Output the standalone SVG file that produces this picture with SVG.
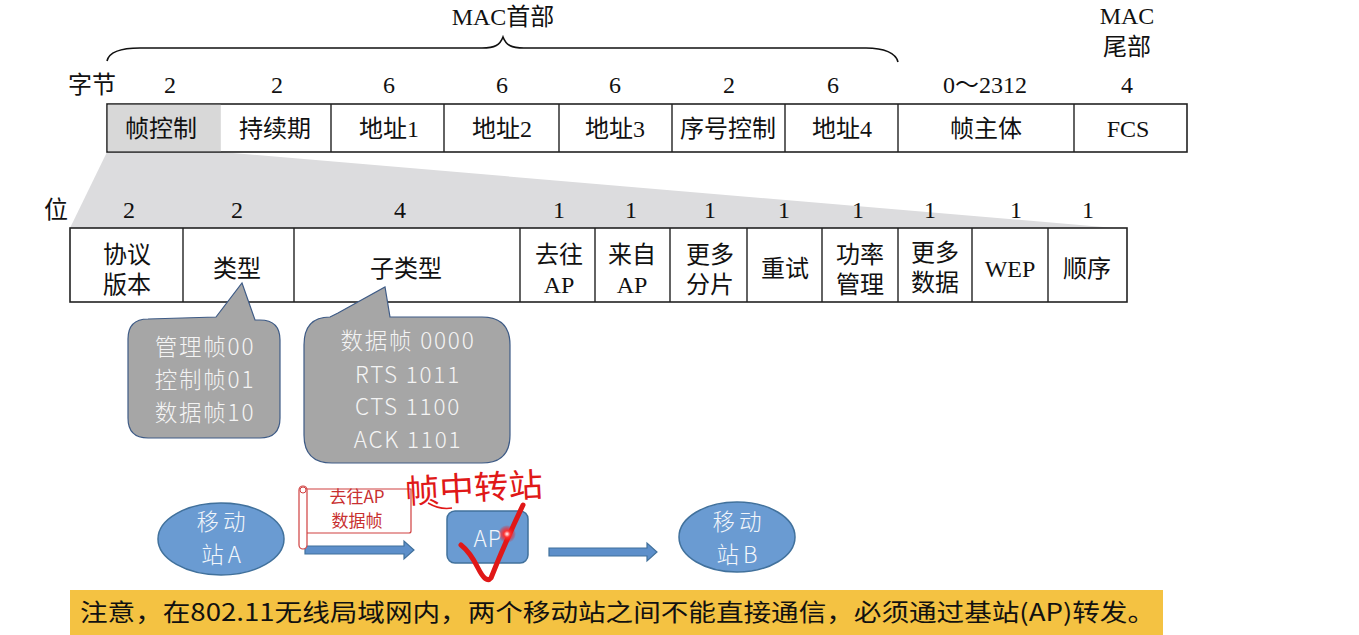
<svg xmlns="http://www.w3.org/2000/svg" width="1359" height="635" viewBox="0 0 1359 635">
  <defs>
    <style>
      .serif { font-family: "Liberation Serif", "Noto Sans CJK SC", serif; font-size: 24px; fill: #111; }
      .cell { fill: #fff; stroke: #222; stroke-width: 1.6; }
      .div { stroke: #222; stroke-width: 1.4; }
      .bubble { fill: #a6a6a6; stroke: #3e5b86; stroke-width: 1.2; }
      .btxt { font-family: "Noto Sans CJK SC", "Noto Sans", sans-serif; font-size: 22.5px; letter-spacing: 1.8px; font-weight: 300; fill: #f4f4f4; text-anchor: middle; }
      .node { fill: #6a9bd2; stroke: #41719c; stroke-width: 1.5; }
      .ntxt { font-family: "Noto Sans CJK SC", "Noto Sans", sans-serif; font-size: 22.5px; letter-spacing: 4px; font-weight: 300; fill: #f2f6fb; text-anchor: middle; }
      .arrow { fill: #5d8fca; stroke: #41719c; stroke-width: 1.2; }
      .mid { text-anchor: middle; }
    </style>
    <radialGradient id="laser">
      <stop offset="0" stop-color="#fff"/>
      <stop offset="0.35" stop-color="#ff3030"/>
      <stop offset="1" stop-color="#ff0000" stop-opacity="0"/>
    </radialGradient>
  </defs>

  <rect width="1359" height="635" fill="#fff"/>

  <!-- frame header / trailer labels -->
  <g id="header-labels" class="serif">
    <text x="503" y="25" class="mid">MAC首部</text>
    <text x="1127" y="24" class="mid">MAC</text>
    <text x="1127" y="55" class="mid">尾部</text>
    <path d="M107,61 C109,52 122,48 140,48 L482,48 C495,48 500,45 503,37 C506,45 511,48 524,48 L866,48 C884,48 896,53 898,62" fill="none" stroke="#111" stroke-width="1.6"/>
  </g>

  <!-- expansion wedge from the frame-control field -->
  <polygon id="wedge" points="107,152 221,152 1115,228 70,228" fill="#dcdcde"/>

  <!-- MAC frame fields (bytes) -->
  <g id="frame">
    <rect x="107" y="104" width="1080" height="48" class="cell"/>
    <rect x="107.8" y="104.8" width="113" height="46.4" fill="#d8d8d8"/>
    <line x1="331" y1="104" x2="331" y2="152" class="div"/>
    <line x1="444" y1="104" x2="444" y2="152" class="div"/>
    <line x1="559" y1="104" x2="559" y2="152" class="div"/>
    <line x1="672" y1="104" x2="672" y2="152" class="div"/>
    <line x1="785" y1="104" x2="785" y2="152" class="div"/>
    <line x1="898" y1="104" x2="898" y2="152" class="div"/>
    <line x1="1074" y1="104" x2="1074" y2="152" class="div"/>
    <g class="serif mid">
      <text x="92" y="93">字节</text>
      <text x="170" y="93">2</text>
      <text x="277" y="93">2</text>
      <text x="389" y="93">6</text>
      <text x="502" y="93">6</text>
      <text x="615" y="93">6</text>
      <text x="729" y="93">2</text>
      <text x="833" y="93">6</text>
      <text x="985" y="93">0～2312</text>
      <text x="1127" y="93">4</text>
      <text x="161" y="137">帧控制</text>
      <text x="275" y="137">持续期</text>
      <text x="389" y="137">地址1</text>
      <text x="502" y="137">地址2</text>
      <text x="615" y="137">地址3</text>
      <text x="728" y="137">序号控制</text>
      <text x="842" y="137">地址4</text>
      <text x="986" y="137">帧主体</text>
      <text x="1128" y="137">FCS</text>
    </g>
  </g>

  <!-- frame-control subfields (bits) -->
  <g id="frame-control">
    <rect x="70" y="228" width="1057" height="74" class="cell"/>
    <line x1="183" y1="228" x2="183" y2="302" class="div"/>
    <line x1="294" y1="228" x2="294" y2="302" class="div"/>
    <line x1="520" y1="228" x2="520" y2="302" class="div"/>
    <line x1="595" y1="228" x2="595" y2="302" class="div"/>
    <line x1="670" y1="228" x2="670" y2="302" class="div"/>
    <line x1="747" y1="228" x2="747" y2="302" class="div"/>
    <line x1="822" y1="228" x2="822" y2="302" class="div"/>
    <line x1="898" y1="228" x2="898" y2="302" class="div"/>
    <line x1="972" y1="228" x2="972" y2="302" class="div"/>
    <line x1="1048" y1="228" x2="1048" y2="302" class="div"/>
    <g class="serif mid">
      <text x="56" y="218">位</text>
      <text x="129" y="218">2</text>
      <text x="237" y="218">2</text>
      <text x="400" y="218">4</text>
      <text x="559" y="218">1</text>
      <text x="631" y="218">1</text>
      <text x="710" y="218">1</text>
      <text x="784" y="218">1</text>
      <text x="858" y="218">1</text>
      <text x="930" y="218">1</text>
      <text x="1016" y="218">1</text>
      <text x="1088" y="218">1</text>
      <text x="127" y="263">协议</text>
      <text x="127" y="293">版本</text>
      <text x="237" y="277">类型</text>
      <text x="406" y="277">子类型</text>
      <text x="559" y="263">去往</text>
      <text x="559" y="293">AP</text>
      <text x="632" y="263">来自</text>
      <text x="632" y="293">AP</text>
      <text x="710" y="263">更多</text>
      <text x="710" y="293">分片</text>
      <text x="785" y="277">重试</text>
      <text x="860" y="263">功率</text>
      <text x="860" y="293">管理</text>
      <text x="935" y="261">更多</text>
      <text x="935" y="291">数据</text>
      <text x="1010" y="277">WEP</text>
      <text x="1087" y="277">顺序</text>
    </g>
  </g>

  <!-- callout: type values -->
  <g id="type-callout">
    <path class="bubble" d="M148,319 L216,317 L242,283 L255,320 L260,320 Q280,320 280,340 L280,418 Q280,438 260,438 L148,438 Q128,438 128,418 L128,339 Q128,319 148,319 Z"/>
    <text x="205" y="355" class="btxt">管理帧00</text>
    <text x="205" y="388" class="btxt">控制帧01</text>
    <text x="205" y="421" class="btxt">数据帧10</text>
  </g>

  <!-- callout: subtype values -->
  <g id="subtype-callout">
    <path class="bubble" d="M330,317 L338,313 L385,287 L390,317 L482,317 Q510,317 510,345 L510,435 Q510,463 482,463 L332,463 Q304,463 304,435 L304,345 Q304,317 330,317 Z"/>
    <text x="408" y="349" class="btxt">数据帧 0000</text>
    <text x="408" y="383" class="btxt">RTS 1011</text>
    <text x="408" y="415" class="btxt">CTS 1100</text>
    <text x="408" y="448" class="btxt">ACK 1101</text>
  </g>

  <!-- stations and access point -->
  <g id="station-a">
    <ellipse cx="221" cy="539" rx="63" ry="36" class="node"/>
    <text x="223" y="530" class="ntxt">移动</text>
    <text x="223" y="563" class="ntxt">站A</text>
  </g>
  <g id="ap">
    <rect x="447" y="511" width="81" height="52" rx="8" class="node"/>
    <text x="488" y="547" class="ntxt" style="letter-spacing:1px">AP</text>
  </g>
  <g id="station-b">
    <ellipse cx="737" cy="537" rx="58" ry="35" class="node"/>
    <text x="739" y="530" class="ntxt">移动</text>
    <text x="739" y="563" class="ntxt">站B</text>
  </g>

  <!-- connectors -->
  <g id="connectors">
    <path class="arrow" d="M305,546 L404,546 L404,541 L414,550 L404,559 L404,554 L305,554 Z"/>
    <path class="arrow" d="M549,548 L647,548 L647,543 L657,552 L647,561 L647,556 L549,556 Z"/>
  </g>

  <!-- frame scroll label -->
  <g id="scroll">
    <path d="M305,489 L411,489 L411,531 Q411,533 409,533 L307,533" fill="#fff" stroke="#d04040" stroke-width="1.2"/>
    <rect x="299" y="486" width="8" height="63" rx="4" fill="#fff" stroke="#d04040" stroke-width="1.2"/>
    <circle cx="303" cy="490" r="3" fill="none" stroke="#d04040" stroke-width="1"/>
    <g font-family="Noto Sans CJK SC, Noto Sans, sans-serif" font-size="17" fill="#c83030" text-anchor="middle">
      <text x="357" y="503">去往AP</text>
      <text x="357" y="527">数据帧</text>
    </g>
  </g>

  <!-- red annotation -->
  <g id="annotation">
    <text x="405" y="500" font-family="Noto Sans CJK SC, sans-serif" font-size="33" fill="#e01818" transform="rotate(-3 470 490)" textLength="138" lengthAdjust="spacingAndGlyphs">帧中转站</text>
    <path d="M428,503 Q440,510 452,508" fill="none" stroke="#e01818" stroke-width="1.5"/>
    <path d="M461,545 Q470,552 478,568 Q486,584 491,578 Q504,545 523,505" fill="none" stroke="#e01818" stroke-width="5" stroke-linecap="round" stroke-linejoin="round"/>
    <circle cx="507" cy="534" r="9" fill="url(#laser)"/>
  </g>

  <!-- note banner -->
  <g id="note">
    <rect x="70" y="590" width="1093" height="45" fill="#f4c242"/>
    <text x="80" y="621" font-family="Noto Sans CJK SC, Noto Sans, sans-serif" font-size="24" fill="#111" textLength="1075" lengthAdjust="spacingAndGlyphs">注意，在802.11无线局域网内，两个移动站之间不能直接通信，必须通过基站(AP)转发。</text>
  </g>
</svg>
